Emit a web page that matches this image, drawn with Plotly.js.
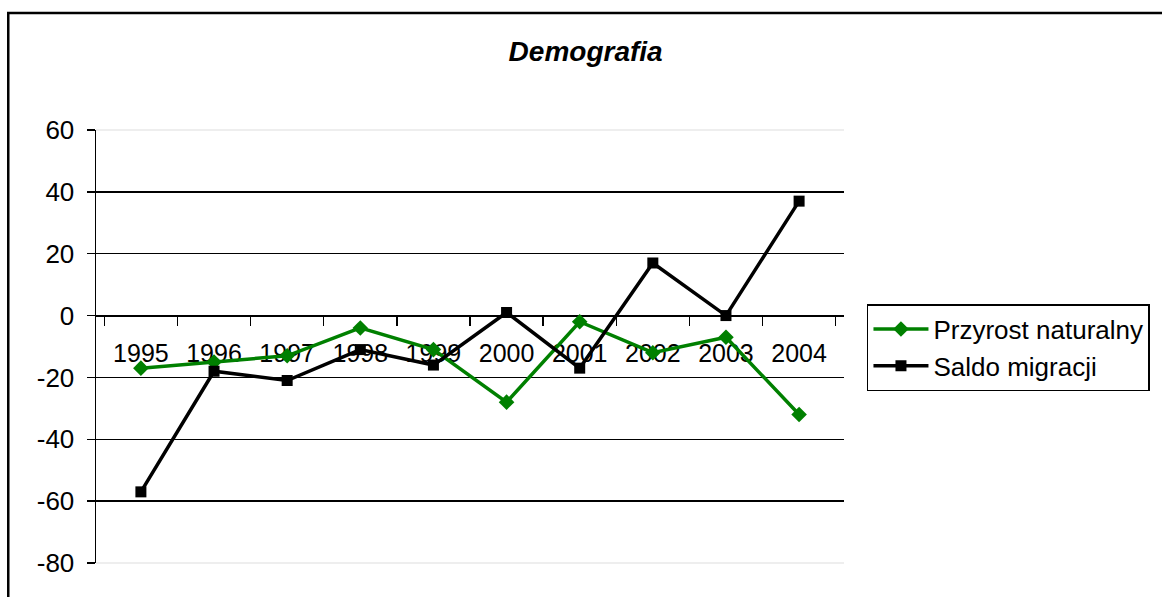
<!DOCTYPE html>
<html>
<head>
<meta charset="utf-8">
<script src="https://cdn.plot.ly/plotly-3.0.1.min.js"></script>
<style>html,body{margin:0;padding:0;background:#fff;}#chart{width:1162px;height:597px;}</style>
</head>
<body>
<div id="chart"></div>
<script>
const years = ['1995','1996','1997','1998','1999','2000','2001','2002','2003','2004'];
const przyrostNaturalny = [-17, -15, -13, -4, -11, -28, -2, -12, -7, -32];
const saldoMigracji = [-57, -18, -21, -11, -16, 1, -17, 17, 0, 37];
const yTicks = [-80, -60, -40, -20, 0, 20, 40, 60];
const yMin = -80, yMax = 60;

const FONT = '"Liberation Sans", Arial, sans-serif';

const traces = [
  {
    x: years, y: przyrostNaturalny, name: 'Przyrost naturalny',
    type: 'scatter', mode: 'lines+markers',
    line: {color: '#008000', width: 3.5},
    marker: {symbol: 'diamond', size: 12, color: '#008000'}
  },
  {
    x: years, y: saldoMigracji, name: 'Saldo migracji',
    type: 'scatter', mode: 'lines+markers',
    line: {color: '#000000', width: 3.5},
    marker: {symbol: 'square', size: 11, color: '#000000'}
  }
];

const layout = {
  width: 1162, height: 597,
  margin: {l: 96, r: 316, t: 130, b: 34, pad: 0},
  paper_bgcolor: '#ffffff', plot_bgcolor: '#ffffff',
  font: {family: FONT, color: '#000', size: 25},
  showlegend: true,
  title: {
    text: 'Demografia', x: 0.504, xanchor: 'center', xref: 'container',
    y: 0.915, yanchor: 'middle', yref: 'container',
    font: {family: FONT, size: 28, weight: 'bold', style: 'italic', color: '#000'}
  },
  xaxis: {
    type: 'category', anchor: 'free',
    position: (0 - yMin) / (yMax - yMin),
    showline: true, linecolor: '#000', linewidth: 1.5,
    ticks: 'outside', ticklen: 9, tickwidth: 1.5, tickcolor: '#000',
    tickson: 'boundaries', showgrid: false, zeroline: false,
    tickfont: {family: FONT, size: 25, color: '#000'},
    ticklabelstandoff: 15, layer: 'below traces', fixedrange: true
  },
  yaxis: {
    range: [yMin, yMax], tickvals: yTicks, ticktext: yTicks.map(String),
    showline: true, linecolor: '#000', linewidth: 1.5,
    ticks: 'outside', ticklen: 8, tickwidth: 1.5, tickcolor: '#000',
    showgrid: true, gridcolor: '#000', gridwidth: 1.5,
    zeroline: false,
    tickfont: {family: FONT, size: 26, color: '#000'},
    ticklabelstandoff: 7, fixedrange: true
  },
  legend: {
    x: 1.0307, xanchor: 'left', y: 0.598, yanchor: 'top',
    bgcolor: '#fff', bordercolor: '#000', borderwidth: 1.5,
    font: {family: FONT, size: 26, color: '#000'},
    itemwidth: 55
  },
  shapes: [
    {type: 'line', xref: 'paper', yref: 'paper', x0: 0, x1: 1, y0: 1, y1: 1,
     line: {color: '#eeeeee', width: 2}, layer: 'above'},
    {type: 'line', xref: 'paper', yref: 'paper', x0: 0, x1: 1, y0: 0, y1: 0,
     line: {color: '#eeeeee', width: 2}, layer: 'above'},
    {type: 'rect', xref: 'paper', yref: 'paper',
     x0: -0.1173, x1: 1.45, y0: -0.2, y1: 1.270,
     line: {color: '#000', width: 2.5}, fillcolor: 'rgba(0,0,0,0)', layer: 'above'}
  ]
};

Plotly.newPlot('chart', traces, layout, {displayModeBar: false, staticPlot: true});
</script>
</body>
</html>
